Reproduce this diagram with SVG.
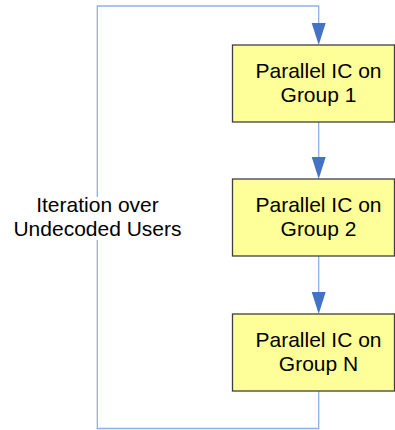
<svg xmlns="http://www.w3.org/2000/svg" width="395" height="430" viewBox="0 0 395 430">
  <style>
    .box { fill: #FFFF99; stroke: #3F3F3F; stroke-width: 1.3; }
    .lbl { font-family: "Liberation Sans", Arial, sans-serif; font-size: 21px; fill: #000; text-anchor: middle; }
    .wire { fill: none; stroke: #8EB1E3; stroke-width: 1.3; }
    .head { fill: #4472C4; }
  </style>
  <rect width="395" height="430" fill="#FFFFFF"/>

  <g id="connectors">
    <!-- feedback loop: from last group back to the first -->
    <path class="wire" d="M318.7,391 V428.5 H97.3 V6 H318.7 V24"/>
    <polygon class="head" points="311.7,23 325.7,23 318.7,45"/>
    <!-- group 1 -> group 2 -->
    <path class="wire" d="M318.7,122 V158"/>
    <polygon class="head" points="311.7,157 325.7,157 318.7,179"/>
    <!-- group 2 -> group N -->
    <path class="wire" d="M318.7,256 V292"/>
    <polygon class="head" points="311.7,292 325.7,292 318.7,314"/>
  </g>

  <g id="loop-label">
    <rect x="0" y="197" width="195" height="43" fill="#FFFFFF"/>
    <text class="lbl" x="97.5" y="211.7">Iteration over</text>
    <text class="lbl" x="97.5" y="235.5">Undecoded Users</text>
  </g>

  <g id="group1">
    <rect class="box" x="232.5" y="45" width="162" height="77"/>
    <text class="lbl" x="318.5" y="77.7">Parallel IC on</text>
    <text class="lbl" x="318.5" y="101.5">Group 1</text>
  </g>

  <g id="group2">
    <rect class="box" x="232.5" y="179" width="162" height="77"/>
    <text class="lbl" x="318.5" y="211.7">Parallel IC on</text>
    <text class="lbl" x="318.5" y="235.5">Group 2</text>
  </g>

  <g id="groupN">
    <rect class="box" x="232.5" y="314" width="162" height="77"/>
    <text class="lbl" x="318.5" y="346.7">Parallel IC on</text>
    <text class="lbl" x="318.5" y="370.5">Group N</text>
  </g>
</svg>
